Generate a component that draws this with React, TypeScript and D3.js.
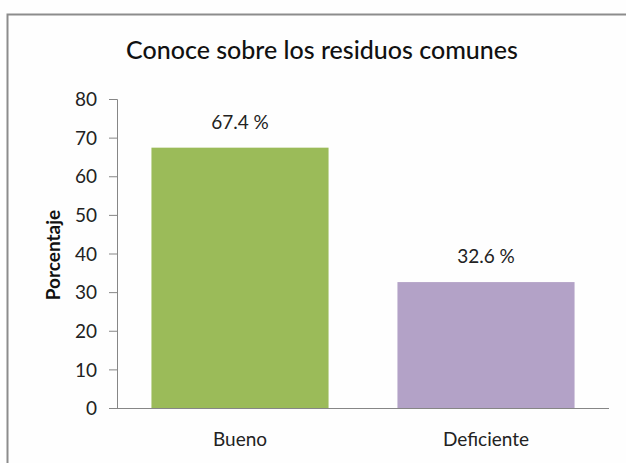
import React, { useEffect, useRef } from 'react'
import * as d3 from 'd3'

const categories = ['Bueno', 'Deficiente']
const values = [67.4, 32.6]
const colors = ['#9BBB59', '#B3A2C7']
const yTicks = [0, 10, 20, 30, 40, 50, 60, 70, 80]

const WIDTH = 626
const HEIGHT = 463
const FONT = 'Lato, "Open Sans", sans-serif'

const App = () => {
  const ref = useRef<SVGSVGElement>(null)

  useEffect(() => {
    const svg = d3.select(ref.current)
    svg.selectAll('*').remove()

    svg.append('rect')
      .attr('width', WIDTH)
      .attr('height', HEIGHT)
      .attr('fill', '#fefefe')

    // frame (top and left edges visible)
    svg.append('path')
      .attr('d', `M7.5,${HEIGHT} V14.5 H${WIDTH}`)
      .attr('fill', 'none')
      .attr('stroke', '#8c8c8c')
      .attr('stroke-width', 2)

    const left = 117
    const right = 609
    const top = 99
    const bottom = 408

    const x = d3.scaleBand()
      .domain(categories)
      .range([left, right])
      .paddingInner(0.28)
      .paddingOuter(0.14)

    const y = d3.scaleLinear()
      .domain([0, 80])
      .range([bottom, top])

    svg.append('text')
      .attr('x', 322)
      .attr('y', 59)
      .attr('text-anchor', 'middle')
      .attr('font-family', FONT)
      .attr('font-size', 25)
      .attr('font-weight', 500)
      .attr('fill', '#111')
      .text('Conoce sobre los residuos comunes')

    const yAxis = svg.append('g')
      .attr('transform', `translate(${left},0)`)
      .call(d3.axisLeft(y).tickValues(yTicks).tickSize(8).tickPadding(12))
    yAxis.select('.domain').attr('stroke', '#868686')
    yAxis.selectAll('.tick line').attr('stroke', '#868686')
    yAxis.selectAll('.tick text')
      .attr('font-family', FONT)
      .attr('font-size', 19)
      .attr('fill', '#222')
      .attr('dy', '0.35em')

    svg.append('line')
      .attr('x1', left - 8)
      .attr('x2', right)
      .attr('y1', bottom + 0.5)
      .attr('y2', bottom + 0.5)
      .attr('stroke', '#868686')

    svg.append('g')
      .selectAll('rect')
      .data(values)
      .enter()
      .append('rect')
      .attr('x', (d, i) => x(categories[i]) as number)
      .attr('y', (d) => y(d))
      .attr('width', x.bandwidth())
      .attr('height', (d) => bottom - y(d))
      .attr('fill', (d, i) => colors[i])

    svg.append('g')
      .selectAll('text')
      .data(values)
      .enter()
      .append('text')
      .attr('x', (d, i) => (x(categories[i]) as number) + x.bandwidth() / 2)
      .attr('y', (d) => y(d) - 19)
      .attr('text-anchor', 'middle')
      .attr('font-family', FONT)
      .attr('font-size', 19)
      .attr('fill', '#222')
      .text((d) => `${d.toFixed(1)} %`)

    svg.append('g')
      .selectAll('text')
      .data(categories)
      .enter()
      .append('text')
      .attr('x', (d) => (x(d) as number) + x.bandwidth() / 2)
      .attr('y', 446)
      .attr('text-anchor', 'middle')
      .attr('font-family', FONT)
      .attr('font-size', 19)
      .attr('fill', '#222')
      .text((d) => d)

    svg.append('text')
      .attr('transform', 'translate(60,255) rotate(-90)')
      .attr('text-anchor', 'middle')
      .attr('font-family', FONT)
      .attr('font-size', 19)
      .attr('font-weight', 700)
      .attr('fill', '#111')
      .text('Porcentaje')
  }, [])

  return (
    <svg
      ref={ref}
      width={WIDTH}
      height={HEIGHT}
      style={{ position: 'absolute', left: 0, top: 0 }}
    />
  )
}

export default App
